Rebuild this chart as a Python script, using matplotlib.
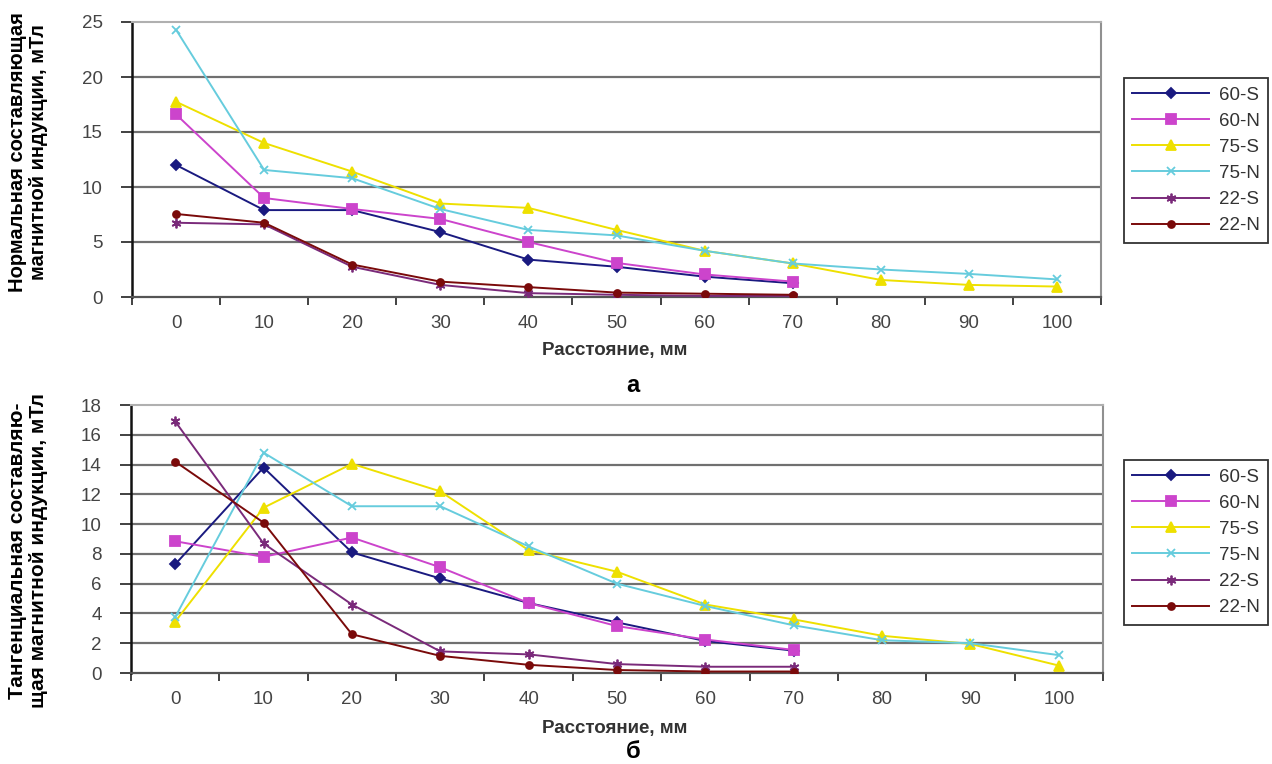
import numpy as np
import matplotlib
matplotlib.use('Agg')
import matplotlib.pyplot as plt

plt.rcParams['font.family'] = ['Liberation Sans', 'DejaVu Sans']

# Categories (distance, mm)
distance = [0, 10, 20, 30, 40, 50, 60, 70, 80, 90, 100]
series_names = ['60-S', '60-N', '75-S', '75-N', '22-S', '22-N']

# (a) normal component, mT
norm_60S = [12.0, 7.9, 7.9, 5.9, 3.4, 2.75, 1.85, 1.25]
norm_60N = [16.6, 9.0, 8.0, 7.1, 5.0, 3.1, 2.05, 1.4]
norm_75S = [17.75, 14.0, 11.4, 8.5, 8.1, 6.1, 4.2, 3.05, 1.55, 1.1, 0.95]
norm_75N = [24.3, 11.55, 10.8, 8.0, 6.1, 5.6, 4.2, 3.05, 2.5, 2.1, 1.6]
norm_22S = [6.75, 6.6, 2.75, 1.1, 0.35, 0.2, 0.1, 0.1]
norm_22N = [7.55, 6.75, 2.95, 1.4, 0.9, 0.4, 0.3, 0.2]

# (б) tangential component, mT
tang_60S = [7.3, 13.8, 8.1, 6.35, 4.7, 3.4, 2.15, 1.5]
tang_60N = [8.85, 7.8, 9.1, 7.1, 4.7, 3.15, 2.25, 1.55]
tang_75S = [3.45, 11.1, 14.05, 12.2, 8.25, 6.8, 4.6, 3.6, 2.5, 1.95, 0.5]
tang_75N = [3.75, 14.8, 11.2, 11.2, 8.5, 6.0, 4.5, 3.2, 2.2, 2.0, 1.2]
tang_22S = [16.9, 8.7, 4.6, 1.45, 1.25, 0.6, 0.42, 0.42]
tang_22N = [14.2, 10.1, 2.6, 1.15, 0.55, 0.2, 0.1, 0.1]

colors = ['#1a1a80', '#cc44cc', '#eee000', '#66ccdd', '#7a2a7a', '#7a0a0a']
markers = ['D', 's', '^', 'x', (6, 2, 0), 'o']
msizes = [5, 6.5, 7, 6, 7, 5]

fig = plt.figure(figsize=(12.72, 7.64), dpi=100)
ax_top = fig.add_axes([132 / 1272, 1 - 297 / 764, 969 / 1272, 275 / 764])
ax_bot = fig.add_axes([131 / 1272, 1 - 673 / 764, 972 / 1272, 268 / 764])


def style_axis(ax, ymax, ystep):
    ax.set_xlim(-0.5, len(distance) - 0.5)
    ax.set_ylim(0, ymax)
    ax.set_yticks(np.arange(0, ymax + 0.1, ystep))
    for y in np.arange(ystep, ymax, ystep):
        ax.axhline(y, color='#707070', lw=1.6, zorder=1)
    ax.set_xticks(np.arange(-0.5, len(distance), 1.0))
    ax.set_xticklabels([])
    ax.set_xticks(range(len(distance)), minor=True)
    ax.set_xticklabels([str(d) for d in distance], minor=True)
    ax.tick_params(axis='x', which='major', direction='out', length=6,
                   width=1.3, color='#333333')
    ax.tick_params(axis='x', which='minor', length=0, pad=13,
                   labelsize=13.5, labelcolor='#444444')
    ax.tick_params(axis='y', direction='out', length=8, width=1.3,
                   color='#333333', pad=13, labelsize=13.5, labelcolor='#444444')
    ax.spines['left'].set_color('#111111')
    ax.spines['left'].set_linewidth(1.8)
    ax.spines['bottom'].set_color('#555555')
    ax.spines['bottom'].set_linewidth(1.6)
    ax.spines['top'].set_color('#b0b0b0')
    ax.spines['top'].set_linewidth(1.5)
    ax.spines['right'].set_color('#909090')
    ax.spines['right'].set_linewidth(1.5)


def draw_series(ax, data, legend_y):
    for vals, name, c, m, ms in zip(data, series_names, colors, markers, msizes):
        x = list(range(len(vals)))
        ax.plot(x, vals, color=c, lw=1.4, marker=m, markersize=ms,
                markeredgewidth=1.3, markerfacecolor=c, markeredgecolor=c,
                label=name, zorder=3)
    leg = ax.legend(loc='upper left', bbox_to_anchor=(1124 / 1272, legend_y),
                    bbox_transform=fig.transFigure, fontsize=13.5,
                    handlelength=4.1, labelspacing=0.48, borderpad=0.45,
                    handletextpad=0.5, borderaxespad=0, fancybox=False,
                    framealpha=1)
    leg.get_frame().set_edgecolor('#333333')
    leg.get_frame().set_linewidth(1.3)
    for t in leg.get_texts():
        t.set_color('#333333')


style_axis(ax_top, 25, 5)
draw_series(ax_top, [norm_60S, norm_60N, norm_75S, norm_75N, norm_22S, norm_22N],
            1 - 78 / 764)
style_axis(ax_bot, 18, 2)
draw_series(ax_bot, [tang_60S, tang_60N, tang_75S, tang_75N, tang_22S, tang_22N],
            1 - 460 / 764)

# Axis titles
fig.text(28 / 1272, 1 - 152 / 764,
         'Нормальная составляющая\nмагнитной индукции, мТл',
         rotation=90, ha='center', va='center', fontsize=14.5,
         fontweight='bold', linespacing=1.15)
fig.text(28 / 1272, 1 - 551 / 764,
         'Тангенциальная составляю-\nщая магнитной индукции, мТл',
         rotation=90, ha='center', va='center', fontsize=15,
         fontweight='bold', linespacing=1.15)

for yy in (351, 728):
    fig.text(615 / 1272, 1 - yy / 764, 'Расстояние, мм', ha='center',
             va='center', fontsize=13.5, fontweight='bold', color='#333333')

fig.text(633 / 1272, 1 - 385 / 764, 'а', ha='center', va='center',
         fontsize=17, fontweight='bold')
fig.text(633 / 1272, 1 - 752 / 764, 'б', ha='center', va='center',
         fontsize=17, fontweight='bold')

fig.savefig('out.png', dpi=100)
